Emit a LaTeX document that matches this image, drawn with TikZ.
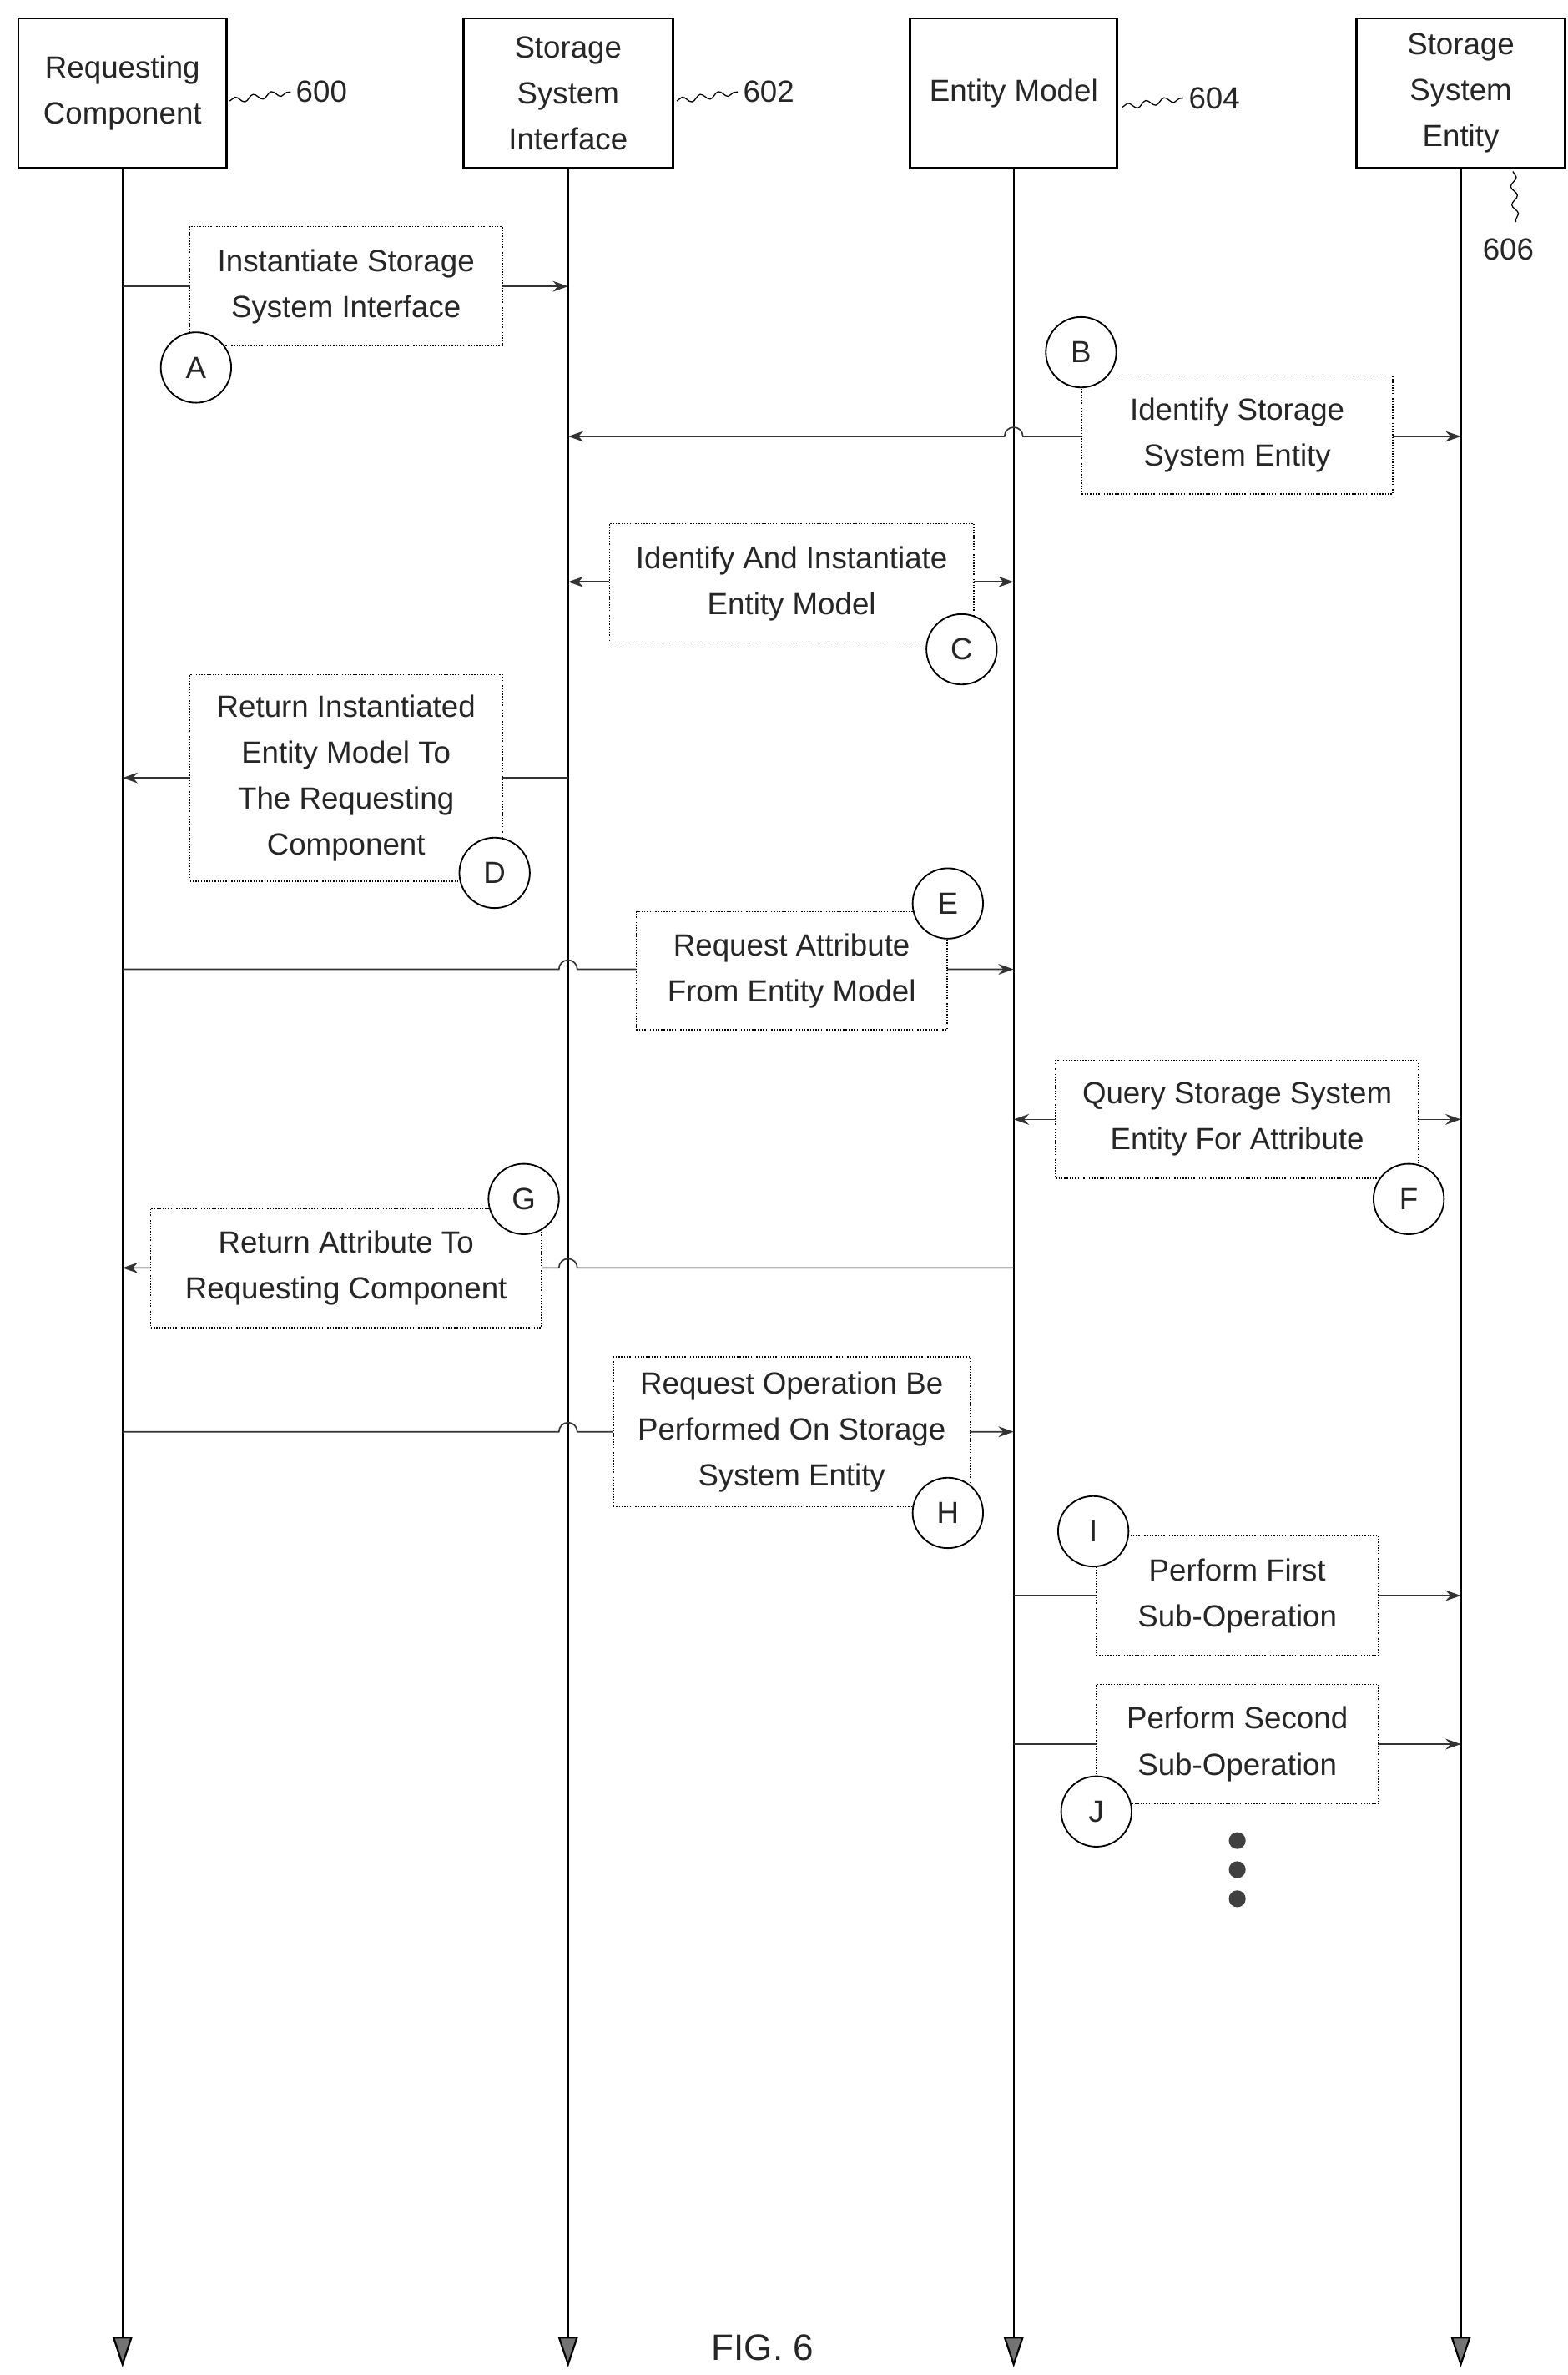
\documentclass[tikz,border=0pt]{standalone}
\usepackage{fontspec}
\setmainfont{Liberation Sans}
\usetikzlibrary{arrows.meta,decorations.pathmorphing}
\begin{document}
\begin{tikzpicture}[x=1pt,y=-1pt,
  every node/.style={font=\fontsize{20}{30}\selectfont,text=black!85},
  hdr/.style={draw,line width=1.6pt,align=center,inner sep=0pt},
  msg/.style={draw,densely dotted,line width=0.8pt,fill=white,align=center,inner sep=0pt},
  lbl/.style={draw,circle,line width=1pt,fill=white,minimum size=46pt,inner sep=0pt},
  life/.style={line width=1.2pt,-{Triangle[width=13pt,length=20pt,fill=black!55]}},
  ar/.style={line width=0.9pt,black!80,-{Stealth[length=10pt,width=7pt]}},
  ar2/.style={line width=0.9pt,black!80,{Stealth[length=10pt,width=7pt]}-{Stealth[length=10pt,width=7pt]}},
  sq/.style={decorate,decoration={snake,amplitude=2pt,segment length=12pt},line width=0.7pt}]
\useasboundingbox (0,0) rectangle (1024,1551);
% headers
\node[hdr,minimum width=136pt,minimum height=98pt] (h0) at (80,61) {Requesting\\Component};
\node[hdr,minimum width=137pt,minimum height=98pt] (h1) at (371,61) {Storage\\System\\Interface};
\node[hdr,minimum width=135pt,minimum height=98pt] (h2) at (662,61) {Entity Model};
\node[hdr,minimum width=136pt,minimum height=98pt] (h3) at (954,61) {Storage\\System\\Entity};
\foreach \i/\x in {0/80,1/371,2/662,3/954}{
  \coordinate (e\i) at (\x,1546);
  \draw[life] (h\i.south) -- (e\i);
}
% ref numerals
\node (n600) at (210,60) {600}; \draw[sq] (150,66) -- (n600.west);
\node (n602) at (502,60) {602}; \draw[sq] (442,66) -- (n602.west);
\node (n604) at (793,64) {604}; \draw[sq] (733,70) -- (n604.west);
\node (n606) at (985,163) {606}; \draw[sq] (988,112) -- (990,145);
% coordinates on lifelines
\foreach \n/\y in {A/187,B/285,C/380,D/508,E/633,F/731,G/828,H/935,I/1042,J/1139}{
  \coordinate (\n0) at (80,\y); \coordinate (\n1) at (371,\y);
  \coordinate (\n2) at (662,\y); \coordinate (\n3) at (954,\y);
  \coordinate (\n1a) at (365,\y); \coordinate (\n2a) at (656,\y);
}
% A
\draw[ar] (A0) -- (A1);
\node[msg,minimum width=204pt,minimum height=78pt] (mA) at (226,187) {Instantiate Storage\\System Interface};
\node[lbl] (cA) at (128,240) {A};
% B
\draw[ar2] (B1) -- (B2a) arc[start angle=180,end angle=360,radius=6] -- (B3);
\node[msg,minimum width=203pt,minimum height=77pt] (mB) at (808,284) {Identify Storage\\System Entity};
\node[lbl] (cB) at (706,230) {B};
% C
\draw[ar2] (C1) -- (C2);
\node[msg,minimum width=238pt,minimum height=78pt] (mC) at (517,381) {Identify And Instantiate\\Entity Model};
\node[lbl] (cC) at (628,424) {C};
% D
\draw[ar] (D1) -- (D0);
\node[msg,minimum width=204pt,minimum height=135pt] (mD) at (226,508) {Return Instantiated\\Entity Model To\\The Requesting\\Component};
\node[lbl] (cD) at (323,570) {D};
% E
\draw[ar] (E0) -- (E1a) arc[start angle=180,end angle=360,radius=6] -- (E2);
\node[msg,minimum width=203pt,minimum height=77pt] (mE) at (517,634) {Request Attribute\\From Entity Model};
\node[lbl] (cE) at (619,590) {E};
% F
\draw[ar2] (F2) -- (F3);
\node[msg,minimum width=237pt,minimum height=77pt] (mF) at (808,731) {Query Storage System\\Entity For Attribute};
\node[lbl] (cF) at (920,783) {F};
% G
\coordinate (G1b) at (377,828);
\draw[ar] (G2) -- (G1b) arc[start angle=0,end angle=-180,radius=6] -- (G0);
\node[msg,minimum width=255pt,minimum height=78pt] (mG) at (226,828) {Return Attribute To\\Requesting Component};
\node[lbl] (cG) at (342,783) {G};
% H
\draw[ar] (H0) -- (H1a) arc[start angle=180,end angle=360,radius=6] -- (H2);
\node[msg,minimum width=233pt,minimum height=98pt] (mH) at (517,935) {Request Operation Be\\Performed On Storage\\System Entity};
\node[lbl] (cH) at (619,988) {H};
% I
\draw[ar] (I2) -- (I3);
\node[msg,minimum width=184pt,minimum height=78pt] (mI) at (808,1042) {Perform First\\Sub-Operation};
\node[lbl] (cI) at (714,1000) {I};
% J
\draw[ar] (J2) -- (J3);
\node[msg,minimum width=184pt,minimum height=78pt] (mJ) at (808,1139) {Perform Second\\Sub-Operation};
\node[lbl] (cJ) at (716,1183) {J};
% dots
\foreach \y [count=\k] in {1202,1221,1240}{\node[circle,fill=black!75,minimum size=11pt,inner sep=0pt] (d\k) at (808,\y) {};}
\node[font=\fontsize{24}{28}\selectfont] (fig) at (498,1533) {FIG. 6};
\end{tikzpicture}
\end{document}
